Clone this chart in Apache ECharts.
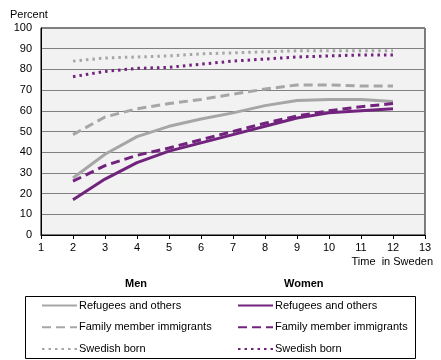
<!DOCTYPE html>
<html>
<head>
<meta charset="utf-8">
<script src="https://cdn.jsdelivr.net/npm/echarts@6/dist/echarts.min.js"></script>
<style>html,body{margin:0;padding:0;background:#fff}#c{width:441px;height:360px}</style>
</head>
<body>
<div id="c"></div>
<script>
var years = [2, 3, 4, 5, 6, 7, 8, 9, 10, 11, 12];
var groups = ["Refugees and others", "Family member immigrants", "Swedish born"];
var menRefugees = [27.5, 39, 47.5, 52.5, 56, 59, 62.5, 65, 65.5, 65.5, 64.5];
var menFamily = [48.5, 57, 61, 63.5, 65.5, 68, 70.5, 72.5, 72.5, 72, 72];
var menSwedish = [84, 85.5, 86, 86.5, 87.5, 88, 88.5, 89, 89, 89, 89];
var womenRefugees = [17, 27, 35, 40.5, 44.5, 48.5, 52.5, 56.5, 59, 60, 61];
var womenFamily = [26, 33.5, 38.5, 42, 46, 50, 54, 57.5, 60, 62, 63.5];
var womenSwedish = [76.5, 79, 80.5, 81, 82.5, 84, 85, 86, 86.5, 87, 87];
var xTicks = [1, 13, 1];
var yTicks = [0, 100, 10];

var GRAY = '#A6A6A6', PURPLE = '#72237E';
var FONT = 'Liberation Sans';
function pts(v){ return years.map(function(x,i){ return [x, v[i]]; }); }
function mk(name, data, color, type){
  return {name: name, type: 'line', data: pts(data), symbol: 'none', smooth: false,
    lineStyle: {color: color, width: 3, type: type, cap: 'butt'}, itemStyle: {color: color}};
}
var dashT = [9, 5], dotT = [2.5, 4];
var series = [
  mk('M:' + groups[0], menRefugees, GRAY, 'solid'),
  mk('M:' + groups[1], menFamily, GRAY, dashT),
  mk('M:' + groups[2], menSwedish, GRAY, dotT),
  mk('W:' + groups[0], womenRefugees, PURPLE, 'solid'),
  mk('W:' + groups[1], womenFamily, PURPLE, dashT),
  mk('W:' + groups[2], womenSwedish, PURPLE, dotT)
];
function legendCfg(prefix, left){
  return {data: groups.map(function(g){return prefix + g;}), orient: 'vertical', left: left, top: 295,
    itemWidth: 35, itemHeight: 14, itemGap: 10.5, selectedMode: false,
    itemStyle: {opacity: 0},
    textStyle: {fontFamily: FONT, fontSize: 11, color: '#000', padding: [0,0,0,-3]},
    formatter: function(n){ return n.substring(2); }};
}
var chart = echarts.init(document.getElementById('c'), null, {renderer: 'canvas'});
chart.setOption({
  animation: false,
  backgroundColor: '#fff',
  grid: {left: 41, right: 16, top: 28, bottom: 125, show: true, backgroundColor: '#F2F2F2', borderColor: '#000', borderWidth: 1},
  xAxis: {type: 'value', min: xTicks[0], max: xTicks[1], interval: xTicks[2],
    axisLine: {lineStyle: {color: '#000'}}, axisTick: {show: true, length: 4, lineStyle: {color: '#000'}},
    splitLine: {show: false},
    axisLabel: {color: '#000', fontFamily: FONT, fontSize: 11, margin: 7}},
  yAxis: {type: 'value', min: yTicks[0], max: yTicks[1], interval: yTicks[2],
    axisLine: {show: true, lineStyle: {color: '#000'}}, axisTick: {show: false},
    splitLine: {lineStyle: {color: '#808080', width: 1}},
    axisLabel: {color: '#000', fontFamily: FONT, fontSize: 11, margin: 9}},
  legend: [legendCfg('M:', 36), legendCfg('W:', 232)],
  graphic: [
    {type: 'text', left: 10, top: 9, style: {text: 'Percent', font: '11px ' + FONT, fill: '#000'}},
    {type: 'text', right: 8, top: 256, style: {text: 'Time  in Sweden', font: '11px ' + FONT, fill: '#000'}},
    {type: 'text', left: 125, top: 278, style: {text: 'Men', font: 'bold 11px ' + FONT, fill: '#000'}},
    {type: 'text', left: 284, top: 278, style: {text: 'Women', font: 'bold 11px ' + FONT, fill: '#000'}},
    {type: 'rect', shape: {x: 25.5, y: 296.5, width: 390, height: 62}, style: {fill: 'none', stroke: '#000', lineWidth: 1}, z: 0}
  ],
  series: series
});
</script>
</body>
</html>
